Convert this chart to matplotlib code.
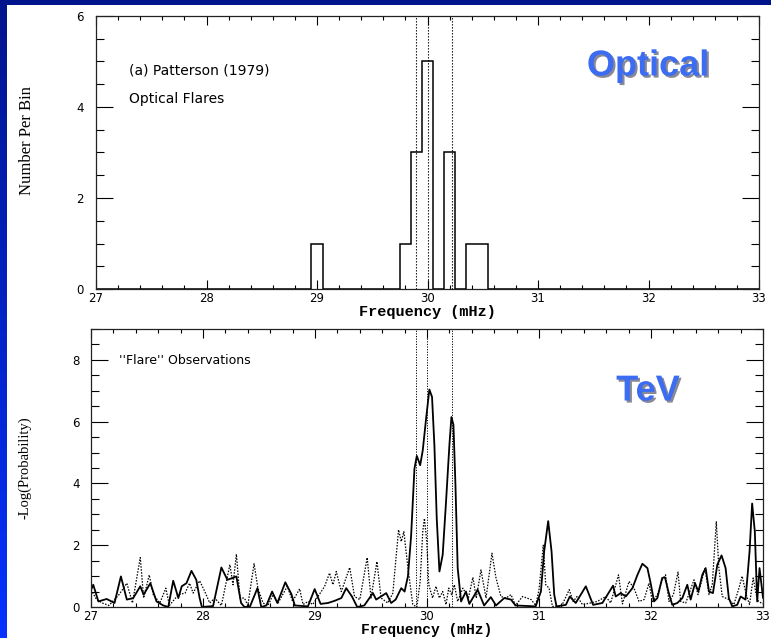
import numpy as np
import matplotlib
matplotlib.use("Agg")
import matplotlib.pyplot as plt
from matplotlib.patches import Rectangle
import matplotlib.patheffects as pe
from matplotlib.ticker import MultipleLocator
from matplotlib.colors import LinearSegmentedColormap

# ---------------- data ----------------
# Optical flares histogram (bin centres in mHz, 0.1 mHz bins)
hist_centers = [29.0, 29.8, 29.9, 30.0, 30.2, 30.4, 30.5]
hist_counts = [1, 1, 3, 5, 3, 1, 1]
bin_width = 0.1

# reference frequencies (dotted vertical lines)
ref_freqs = [29.9, 30.0, 30.225]

# TeV "flare" periodogram, solid curve
solid_freq = [27.00, 27.02, 27.066, 27.14, 27.21, 27.267, 27.32, 27.377, 27.44, 27.47,
              27.53, 27.585, 27.645, 27.69, 27.734, 27.78, 27.81, 27.852, 27.897, 27.94,
              27.97, 27.99, 28.09, 28.164, 28.218, 28.298, 28.34, 28.37, 28.42, 28.486,
              28.52, 28.566, 28.617, 28.664, 28.735, 28.789, 28.82, 28.937, 28.997, 29.05,
              29.116, 29.175, 29.235, 29.279, 29.33, 29.377, 29.44, 29.517, 29.546, 29.636,
              29.68, 29.72, 29.77, 29.80, 29.83, 29.858, 29.888, 29.909, 29.939, 29.962,
              29.992, 30.021, 30.045, 30.066, 30.087, 30.111, 30.14, 30.17, 30.2, 30.218,
              30.236, 30.254, 30.274, 30.304, 30.348, 30.378, 30.452, 30.51, 30.57, 30.616,
              30.69, 30.75, 30.79, 30.97, 31.017, 31.046, 31.082, 31.112, 31.136, 31.156,
              31.24, 31.275, 31.328, 31.418, 31.483, 31.566, 31.661, 31.685, 31.73, 31.775,
              31.834, 31.879, 31.923, 31.968, 31.997, 32.027, 32.057, 32.1, 32.125, 32.155,
              32.19, 32.235, 32.28, 32.324, 32.354, 32.393, 32.423, 32.458, 32.488, 32.518,
              32.553, 32.592, 32.63, 32.666, 32.695, 32.725, 32.77, 32.8, 32.844, 32.88,
              32.903, 32.927, 32.948, 32.969, 33.0]
solid_val = [0.55, 0.72, 0.18, 0.26, 0.13, 0.99, 0.24, 0.29, 0.67, 0.40,
             0.77, 0.18, 0.05, 0.0, 0.85, 0.29, 0.67, 0.77, 1.17, 0.88,
             0.29, 0.0, 0.03, 1.28, 0.88, 0.99, 0.13, 0.0, 0.02, 0.61,
             0.0, 0.05, 0.5, 0.13, 0.8, 0.42, 0.05, 0.02, 0.58, 0.1,
             0.13, 0.2, 0.29, 0.61, 0.34, 0.0, 0.05, 0.45, 0.24, 0.45,
             0.13, 0.24, 0.61, 0.5, 1.0, 2.3, 4.48, 4.89, 4.59, 5.07,
             6.1, 7.04, 6.8, 5.24, 2.87, 1.15, 1.69, 3.41, 5.24, 6.15,
             5.9, 3.95, 1.26, 0.18, 0.5, 0.1, 0.56, 0.05, 0.32, 0.05,
             0.29, 0.24, 0.05, 0.02, 0.5, 1.8, 2.78, 1.8, 0.4, 0.02,
             0.07, 0.34, 0.13, 0.67, 0.07, 0.13, 0.69, 0.34, 0.45, 0.34,
             0.61, 1.04, 1.4, 1.26, 0.77, 0.18, 0.29, 0.94, 0.96, 0.5,
             0.07, 0.13, 0.29, 0.72, 0.24, 0.77, 0.5, 1.04, 1.26, 0.5,
             0.45, 1.37, 1.67, 1.26, 0.29, 0.02, 0.07, 0.34, 0.24, 1.8,
             3.35, 2.44, 0.18, 1.26, 0.3]

# TeV periodogram, dotted curve
dot_freq = [27.0, 27.05, 27.1, 27.16, 27.25, 27.32, 27.37, 27.44, 27.47, 27.52,
            27.556, 27.615, 27.668, 27.70, 27.78, 27.84, 27.88, 27.912, 27.97, 28.016,
            28.06, 28.105, 28.164, 28.24, 28.268, 28.298, 28.33, 28.37, 28.40, 28.456,
            28.49, 28.536, 28.58, 28.626, 28.67, 28.753, 28.8, 28.863, 28.893, 28.94,
            28.98, 29.086, 29.13, 29.16, 29.19, 29.235, 29.31, 29.353, 29.4, 29.466,
            29.5, 29.553, 29.59, 29.65, 29.695, 29.746, 29.77, 29.793, 29.83, 29.858,
            29.873, 29.909, 29.939, 29.962, 29.977, 29.998, 30.016, 30.05, 30.08, 30.11,
            30.14, 30.17, 30.194, 30.22, 30.244, 30.274, 30.32, 30.37, 30.41, 30.44,
            30.482, 30.527, 30.58, 30.616, 30.66, 30.705, 30.75, 30.79, 30.853, 30.93,
            30.97, 31.0, 31.038, 31.06, 31.09, 31.12, 31.2, 31.27, 31.305, 31.34,
            31.388, 31.46, 31.52, 31.596, 31.64, 31.71, 31.745, 31.804, 31.848, 31.893,
            31.938, 31.982, 32.012, 32.057, 32.1, 32.13, 32.16, 32.2, 32.241, 32.265,
            32.31, 32.384, 32.42, 32.482, 32.518, 32.547, 32.583, 32.606, 32.636, 32.695,
            32.74, 32.785, 32.814, 32.85, 32.88, 32.912, 32.94, 32.96, 33.0]
dot_val = [0.56, 0.24, 0.13, 0.05, 0.4, 0.77, 0.13, 1.6, 0.29, 1.04,
           0.4, 0.13, 0.61, 0.05, 0.4, 0.45, 0.77, 0.45, 0.85, 0.5,
           0.13, 0.29, 0.05, 1.37, 0.72, 1.71, 0.29, 0.29, 0.05, 1.4,
           0.61, 0.13, 0.05, 0.4, 0.13, 0.67, 0.18, 0.59, 0.08, 0.18,
           0.08, 0.67, 1.1, 0.72, 1.15, 0.5, 1.28, 0.34, 0.24, 1.6,
           0.29, 1.47, 0.29, 0.13, 0.45, 2.5, 2.12, 2.44, 1.26, 0.5,
           0.08, 0.0, 0.83, 2.44, 2.87, 2.12, 0.72, 0.29, 0.67, 0.29,
           0.5, 0.08, 0.61, 0.4, 0.72, 0.18, 0.61, 0.3, 0.96, 0.29,
           1.2, 0.29, 1.74, 0.94, 0.34, 0.29, 0.4, 0.05, 0.34, 0.24,
           0.05, 0.56, 2.0, 0.72, 0.61, 0.02, 0.02, 0.56, 0.18, 0.34,
           0.08, 0.13, 0.18, 0.34, 0.13, 1.04, 0.1, 0.83, 0.61, 0.18,
           0.24, 0.77, 0.18, 0.4, 0.88, 1.04, 0.18, 0.4, 1.13, 0.18,
           0.13, 0.88, 0.4, 1.26, 0.4, 0.72, 2.76, 1.26, 0.34, 0.24,
           0.08, 0.61, 1.0, 0.4, 0.08, 0.94, 0.4, 0.18, 0.1]

x_ticks = [27, 28, 29, 30, 31, 32, 33]
top_yticks = [0, 2, 4, 6]
bot_yticks = [0, 2, 4, 6, 8]

# ---------------- figure ----------------
W, H = 771, 638
fig = plt.figure(figsize=(W / 100, H / 100), dpi=100)

# slide background: blue gradient frame with white panel
bg = fig.add_axes([0, 0, 1, 1], zorder=-10)
grad = np.linspace(0, 1, 256).reshape(-1, 1)
cmap = LinearSegmentedColormap.from_list("slide", [(0.0, 0.08, 0.55), (0.02, 0.2, 1.0)])
bg.imshow(grad, extent=[0, 1, 0, 1], aspect="auto", cmap=cmap, origin="upper")
bg.add_patch(Rectangle((7 / W, 0), 1, 1 - 5 / H, facecolor="white", edgecolor="none"))
bg.set_xlim(0, 1)
bg.set_ylim(0, 1)
bg.axis("off")

mono = "Liberation Mono"


def style_axes(ax, ypad):
    ax.xaxis.set_major_locator(MultipleLocator(1))
    ax.xaxis.set_minor_locator(MultipleLocator(0.2))
    ax.yaxis.set_major_locator(MultipleLocator(2))
    ax.yaxis.set_minor_locator(MultipleLocator(0.5))
    ax.tick_params(which="both", direction="in", top=True, right=True, color="black")
    ax.tick_params(axis="x", which="major", length=6.5, width=0.8, pad=2)
    ax.tick_params(axis="x", which="minor", length=3.2, width=0.8)
    ax.tick_params(axis="y", which="major", length=12, width=0.8, pad=ypad)
    ax.tick_params(axis="y", which="minor", length=6, width=0.8)
    for lab in ax.get_xticklabels() + ax.get_yticklabels():
        lab.set_fontfamily("DejaVu Sans")
        lab.set_fontsize(8.5)
    for s in ax.spines.values():
        s.set_linewidth(0.9)
        s.set_color("#222222")


# ---- top panel: optical histogram ----
ax1 = fig.add_axes([96 / W, 1 - 289 / H, (759 - 96) / W, (289 - 16) / H])
edges = np.round(np.arange(26.95, 33.05 + 1e-9, bin_width), 3)
counts = np.zeros(len(edges) - 1)
for c, n in zip(hist_centers, hist_counts):
    counts[int(round((c - edges[0]) / bin_width - 0.5))] = n
ax1.stairs(counts, edges, baseline=0, color="black", linewidth=1.1)
for f in ref_freqs:
    ax1.axvline(f, color="black", linestyle=(0, (1.2, 1.5)), linewidth=0.8)
ax1.set_xlim(27, 33)
ax1.set_ylim(0, 6)
ax1.set_xticks(x_ticks)
ax1.set_yticks(top_yticks)
style_axes(ax1, 9)
ax1.set_xlabel("Frequency (mHz)", family=mono, fontsize=11, fontweight="bold", labelpad=0)
ax1.text(129 / 100, (H - 70) / 100, "(a) Patterson (1979)", transform=fig.dpi_scale_trans,
         fontsize=10, family="DejaVu Sans", va="center", ha="left")
ax1.text(129 / 100, (H - 99) / 100, "Optical Flares", transform=fig.dpi_scale_trans,
         fontsize=10, family="DejaVu Sans", va="center", ha="left")

# ---- bottom panel: TeV periodogram ----
ax2 = fig.add_axes([91 / W, 1 - 607 / H, (763 - 91) / W, (607 - 329) / H])
ax2.plot(dot_freq, dot_val, color="black", linestyle=(0, (1.2, 1.2)), linewidth=0.9)
ax2.plot(solid_freq, solid_val, color="black", linewidth=1.3)
for f in ref_freqs:
    ax2.axvline(f, color="black", linestyle=(0, (1.2, 1.5)), linewidth=0.7)
ax2.set_xlim(27, 33)
ax2.set_ylim(0, 9)
ax2.set_xticks(x_ticks)
ax2.set_yticks(bot_yticks)
style_axes(ax2, 8)
ax2.set_xlabel("Frequency (mHz)", family=mono, fontsize=10.5, fontweight="bold", labelpad=0)
ax2.text(119 / 100, (H - 360) / 100, "''Flare'' Observations", transform=fig.dpi_scale_trans,
         fontsize=9, family="DejaVu Sans", va="center", ha="left")

# y labels (serif)
fig.text(27 / W, 1 - 141 / H, "Number Per Bin", rotation=90, family="Liberation Serif",
         fontsize=12, ha="center", va="center")
fig.text(25 / W, 1 - 468 / H, "-Log(Probability)", rotation=90, family="Liberation Serif",
         fontsize=10.5, ha="center", va="center")

# slide annotations
shadow = [pe.SimplePatchShadow(offset=(1.5, -1.5), shadow_rgbFace=(0.15, 0.15, 0.25), alpha=0.55),
          pe.Normal()]
fig.text(648 / W, 1 - 66 / H, "Optical", family="Liberation Sans", fontweight="bold",
         fontsize=26, color="#3b6cf2", ha="center", va="center", path_effects=shadow)
fig.text(648 / W, 1 - 391 / H, "TeV", family="Liberation Sans", fontweight="bold",
         fontsize=26, color="#3b6cf2", ha="center", va="center", path_effects=shadow)

fig.savefig("out.png", dpi=100)
